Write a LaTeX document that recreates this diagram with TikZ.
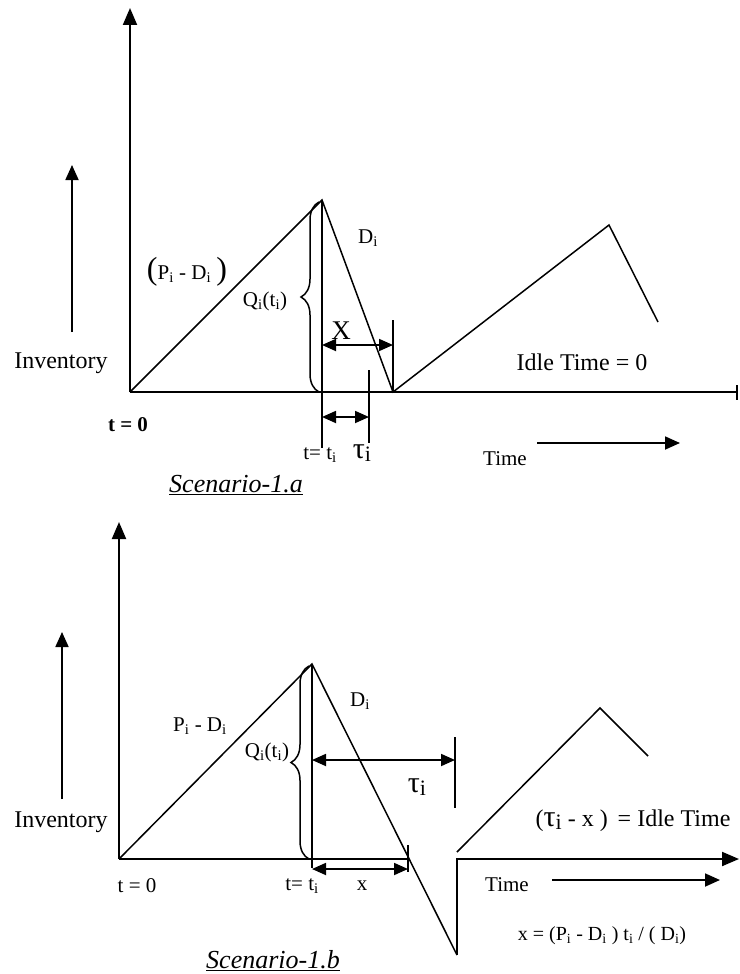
\documentclass[tikz,border=0pt]{standalone}
\usepackage{fontspec}
\setmainfont{Liberation Serif}
\usetikzlibrary{
  arrows.meta,
  decorations.pathreplacing
}
\tikzset{
  >={Triangle[length=14pt,width=13pt]},
  axis/.style={line width=2pt,-{Triangle[length=17pt,width=14pt]}},
  plain axis/.style={line width=2pt},
  curve/.style={line width=1.5pt},
  dim/.style={line width=1.8pt,{Triangle[length=14pt,width=12pt]}-{Triangle[length=14pt,width=12pt]}},
  flow/.style={line width=1.8pt,-{Triangle[length=15pt,width=13pt]}},
  tickline/.style={line width=1.5pt},
  qbrace/.style={line width=1.5pt,decorate,decoration={brace,amplitude=18pt,aspect=0.5}},
  lbl/.style={font=\fontsize{21}{24}\selectfont,inner sep=0pt},
  biglbl/.style={font=\fontsize{24}{28}\selectfont,inner sep=0pt},
  taulbl/.style={font=\fontsize{30}{34}\selectfont,inner sep=0pt},
  smalllbl/.style={font=\fontsize{20}{24}\selectfont,inner sep=0pt},
  caption/.style={font=\fontsize{26}{30}\selectfont\itshape,inner sep=0pt}
}
\newcommand{\ssub}[1]{\textsubscript{#1}}
\newcommand{\taui}{τ\raisebox{-0.2ex}{\fontsize{22}{22}\selectfont i}}

\begin{document}
\begin{tikzpicture}[x=1pt,y=-1pt]
  \useasboundingbox (0,0) rectangle (739,974);

  % Scenario-1.a: points of the saw-tooth.
  \coordinate (aO) at (130,392);
  \coordinate (aTop) at (130,8);
  \coordinate (aEnd) at (737,392);
  \coordinate (aPk) at (322,200);
  \coordinate (aLow) at (393,392);
  \coordinate (aPk2) at (609,225);
  \coordinate (aCut) at (658,322);
  \coordinate (aTi) at (322,448);

  \draw[axis] (aO) -- (aTop);
  \draw[plain axis] (aO) -- (aEnd);
  \draw[plain axis] (737,385) -- (737,400);
  \draw[curve] (aO) -- (aPk) -- (aLow) -- (aPk2) -- (aCut);
  \draw[tickline] (aPk) -- (aTi);
  \draw[qbrace] (319,392) -- (319,202);

  % dimension arrows x and tau
  \coordinate (aXl) at (322,345);
  \coordinate (aXr) at (393,345);
  \coordinate (aTl) at (322,417);
  \coordinate (aTr) at (369,417);
  \draw[tickline] (393,320) -- (aLow);
  \draw[dim] (aXl) -- (aXr);
  \draw[tickline] (369,370) -- (369,443);
  \draw[dim] (aTl) -- (aTr);

  % Inventory and time arrows
  \draw[flow] (72,332) -- (72,165);
  \draw[flow] (537,443) -- (680,443);

  \node[biglbl] (aInv) at (61,363) {Inventory};
  \node[lbl,font=\fontsize{21}{24}\selectfont\bfseries] (aT0) at (128,425) {t = 0};
  \node[lbl] (aPD) at (187,272) {{\fontsize{32}{32}\selectfont(}P\ssub{i} - D\ssub{i} {\fontsize{32}{32}\selectfont)}};
  \node[lbl] (aQ) at (265,301) {Q\ssub{i}(t\ssub{i})};
  \node[lbl] (aD) at (368,238) {D\ssub{i}};
  \node[biglbl,font=\fontsize{27}{30}\selectfont] (aX) at (341,331) {X};
  \node[lbl] (aTiL) at (320,455) {t= t\ssub{i}};
  \node[taulbl] (aTau) at (362,453) {\taui};
  \node[biglbl] (aIdle) at (582,362) {Idle Time = 0};
  \node[lbl] (aTime) at (505,459) {Time};
  \node[caption] (aCap) at (236,485) {\underline{Scenario-1.a}};

  % Scenario-1.b: points of the saw-tooth.
  \coordinate (bO) at (119,859);
  \coordinate (bTop) at (119,522);
  \coordinate (bX) at (408,859);
  \coordinate (bPk) at (312,664);
  \coordinate (bDip) at (457,955);
  \coordinate (bRise) at (457,859);
  \coordinate (bEnd) at (739,859);
  \coordinate (bSt) at (457,852);
  \coordinate (bPk2) at (600,708);
  \coordinate (bCut) at (648,756);
  \coordinate (bTi) at (312,868);

  \draw[axis] (bO) -- (bTop);
  \draw[plain axis] (bO) -- (bX);
  \draw[curve] (bO) -- (bPk) -- (bDip);
  \draw[axis] (bDip) -- (bRise) -- (bEnd);
  \draw[curve] (bSt) -- (bPk2) -- (bCut);
  \draw[tickline] (bPk) -- (bTi);
  \draw[qbrace] (309,859) -- (309,666);

  % dimension arrows tau and x
  \coordinate (bTl) at (312,760);
  \coordinate (bTr) at (455,760);
  \coordinate (bXl) at (312,869);
  \coordinate (bXr) at (408,869);
  \draw[tickline] (455,737) -- (455,808);
  \draw[dim] (bTl) -- (bTr);
  \draw[tickline] (408,845) -- (408,872);
  \draw[dim] (bXl) -- (bXr);

  % Inventory and time arrows
  \draw[flow] (62,799) -- (62,632);
  \draw[flow] (552,880) -- (720,880);

  \node[biglbl] (bInv) at (61,822) {Inventory};
  \node[lbl] (bT0) at (137,886) {t = 0};
  \node[lbl] (bPD) at (200,726) {P\ssub{i} - D\ssub{i}};
  \node[lbl] (bQ) at (267,752) {Q\ssub{i}(t\ssub{i})};
  \node[lbl] (bD) at (360,701) {D\ssub{i}};
  \node[taulbl] (bTau) at (417,787) {\taui};
  \node[lbl] (bTiL) at (302,886) {t= t\ssub{i}};
  \node[lbl] (bXlab) at (362,886) {x};
  \node[biglbl] (bIdle) at (633,821) {({\fontsize{30}{30}\selectfont\taui} - x )\, = Idle Time};
  \node[lbl] (bTime) at (507,885) {Time};
  \node[smalllbl] (bForm) at (602,936) {x = (P\ssub{i} - D\ssub{i} ) t\ssub{i} / ( D\ssub{i})};
  \node[caption] (bCap) at (273,961) {\underline{Scenario-1.b}};
\end{tikzpicture}
\end{document}
